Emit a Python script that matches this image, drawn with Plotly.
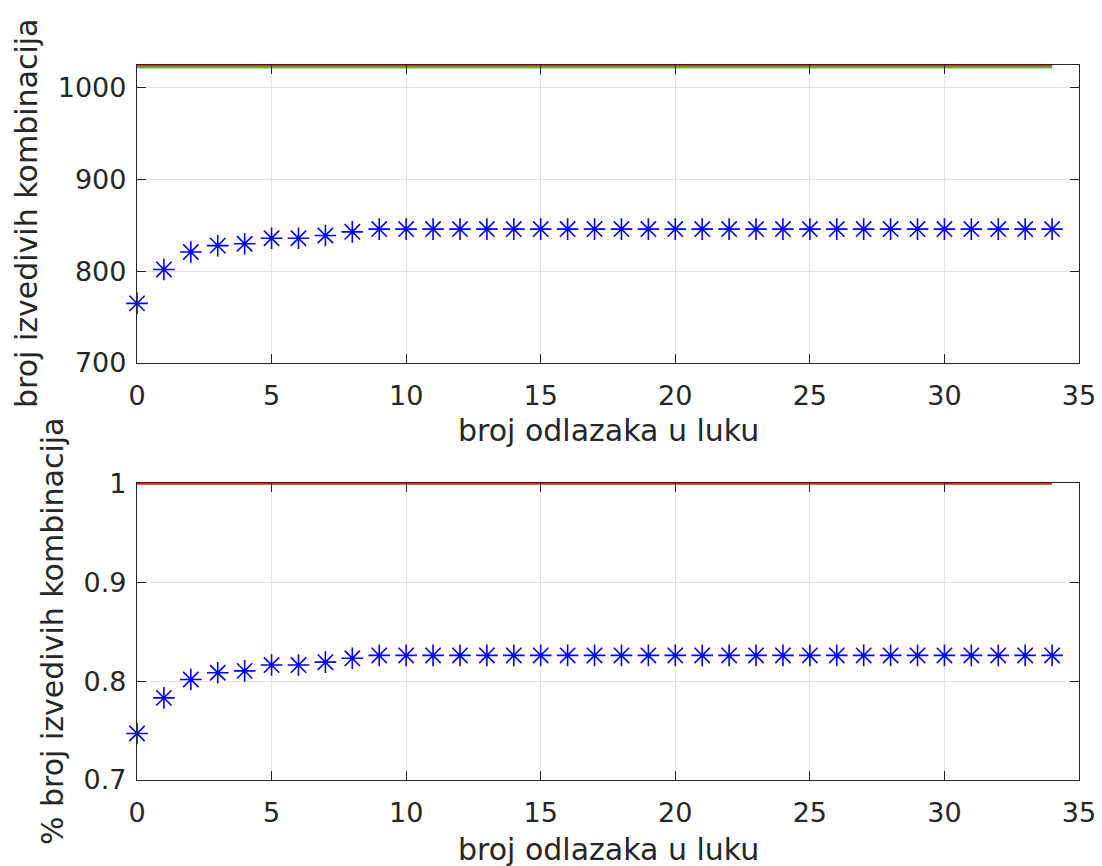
import plotly.graph_objects as go

# Number of departures to port (x axis)
odlasci = [0, 1, 2, 3, 4, 5, 6, 7, 8, 9, 10, 11, 12, 13, 14, 15, 16, 17,
           18, 19, 20, 21, 22, 23, 24, 25, 26, 27, 28, 29, 30, 31, 32, 33, 34]

# Feasible combinations found for each number of departures
izvedive = [765, 802, 821, 828, 830, 836, 836, 839, 843, 846, 846, 846, 846,
            846, 846, 846, 846, 846, 846, 846, 846, 846, 846, 846, 846, 846,
            846, 846, 846, 846, 846, 846, 846, 846, 846]

# Reference levels: total number of combinations and upper bound line
ukupno = 1024
granica = 1022

udio = [v / ukupno for v in izvedive]
linija_ukupno = [ukupno for _ in odlasci]
linija_granica = [granica for _ in odlasci]
linija_jedan = [1.0 for _ in odlasci]

W, H = 1102, 866
FONT = "DejaVu Sans"
TXT = "#262626"
PLAVA = "#0000ff"
CRVENA = "#ee2222"
ZELENA = "#22dd22"

def px_x(p):
    return p / W

def px_y(p):
    return 1 - p / H

zvjezdica = dict(symbol="asterisk-open", size=18, color=PLAVA,
                 line=dict(color=PLAVA, width=1.6))

fig = go.Figure()

# Top panel
fig.add_trace(go.Scatter(x=odlasci, y=linija_granica, mode="lines",
                         line=dict(color=ZELENA, width=1.6),
                         xaxis="x", yaxis="y", showlegend=False))
fig.add_trace(go.Scatter(x=odlasci, y=linija_ukupno, mode="lines",
                         line=dict(color=CRVENA, width=1.8),
                         xaxis="x", yaxis="y", showlegend=False))
fig.add_trace(go.Scatter(x=odlasci, y=izvedive, mode="markers",
                         marker=zvjezdica, cliponaxis=False,
                         xaxis="x", yaxis="y", showlegend=False))

# Bottom panel
fig.add_trace(go.Scatter(x=odlasci, y=linija_jedan, mode="lines",
                         line=dict(color=CRVENA, width=2),
                         xaxis="x2", yaxis="y2", showlegend=False))
fig.add_trace(go.Scatter(x=odlasci, y=udio, mode="markers",
                         marker=zvjezdica, cliponaxis=False,
                         xaxis="x2", yaxis="y2", showlegend=False))

xdom = [px_x(137), px_x(1079)]
axis_common = dict(
    showline=True, linecolor=TXT, linewidth=1.3, mirror="ticks",
    ticks="inside", ticklen=9, tickwidth=1.3, tickcolor=TXT,
    showgrid=True, gridcolor="#e3e3e3", gridwidth=1,
    zeroline=False, automargin=False,
    tickfont=dict(family=FONT, size=27, color=TXT),
)

fig.update_layout(
    width=W, height=H,
    margin=dict(l=0, r=0, t=0, b=0, pad=0, autoexpand=False),
    paper_bgcolor="white", plot_bgcolor="white",
    xaxis=dict(domain=xdom, anchor="y", range=[0, 35],
               tickvals=[0, 5, 10, 15, 20, 25, 30, 35],
               ticklabelstandoff=8, **axis_common),
    yaxis=dict(domain=[px_y(363), px_y(65)], anchor="x",
               range=[700, 1024.9], tickvals=[700, 800, 900, 1000],
               ticklabelstandoff=4, **axis_common),
    xaxis2=dict(domain=xdom, anchor="y2", range=[0, 35],
                tickvals=[0, 5, 10, 15, 20, 25, 30, 35],
                ticklabelstandoff=8, **axis_common),
    yaxis2=dict(domain=[px_y(780), px_y(483)], anchor="x2",
                range=[0.7, 1.0008], tickvals=[0.7, 0.8, 0.9, 1.0],
                ticktext=["0.7", "0.8", "0.9", "1"],
                ticklabelstandoff=4, **axis_common),
)

lab_font = dict(family=FONT, size=30, color=TXT)
xc = (137 + 1079) / 2 / W
fig.add_annotation(text="broj odlazaka u luku", x=xc, y=px_y(431),
                   xref="paper", yref="paper", showarrow=False,
                   xanchor="center", yanchor="middle", font=lab_font)
fig.add_annotation(text="broj odlazaka u luku", x=xc, y=px_y(849),
                   xref="paper", yref="paper", showarrow=False,
                   xanchor="center", yanchor="middle", font=lab_font)
fig.add_annotation(text="broj izvedivih kombinacija", x=px_x(27),
                   y=px_y(214), xref="paper", yref="paper",
                   showarrow=False, textangle=-90,
                   xanchor="center", yanchor="middle", font=lab_font)
fig.add_annotation(text="% broj izvedivih kombinacija", x=px_x(52),
                   y=px_y(631), xref="paper", yref="paper",
                   showarrow=False, textangle=-90,
                   xanchor="center", yanchor="middle", font=lab_font)

fig.write_html("out.html")
